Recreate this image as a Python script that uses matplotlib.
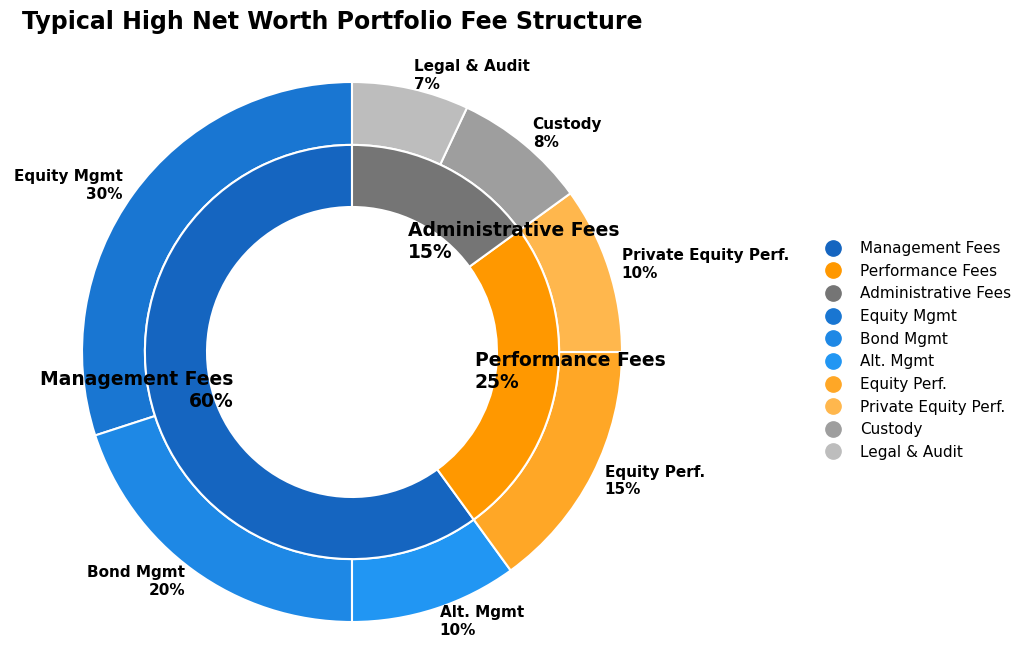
import matplotlib.pyplot as plt
from matplotlib.lines import Line2D

inner_labels = ["Management Fees", "Performance Fees", "Administrative Fees"]
inner_values = [60, 25, 15]
inner_colors = ["#1565C0", "#FF9800", "#757575"]

outer_labels = ["Equity Mgmt", "Bond Mgmt", "Alt. Mgmt", "Equity Perf.",
                "Private Equity Perf.", "Custody", "Legal & Audit"]
outer_values = [30, 20, 10, 15, 10, 8, 7]
outer_colors = ["#1976D2", "#1E88E5", "#2196F3", "#FFA726", "#FFB74D",
                "#9E9E9E", "#BDBDBD"]

fig = plt.figure(figsize=(10.24, 6.49), dpi=100)
ax = fig.add_axes([55/1024, 0, 594/1024, 594/649])

ax.pie(outer_values, radius=1, startangle=90, colors=outer_colors,
       labels=[f"{l}\n{v}%" for l, v in zip(outer_labels, outer_values)],
       labeldistance=1.05,
       wedgeprops=dict(width=0.233, edgecolor="white", linewidth=1.5),
       textprops=dict(fontsize=11, fontweight="bold"))
ax.pie(inner_values, radius=0.767, startangle=90, colors=inner_colors,
       labels=[f"{l}\n{v}%" for l, v in zip(inner_labels, inner_values)],
       labeldistance=0.6,
       wedgeprops=dict(width=0.23, edgecolor="white", linewidth=1.5),
       textprops=dict(fontsize=13.5, fontweight="bold"))
ax.set_xlim(-1.1, 1.1)
ax.set_ylim(-1.1, 1.1)
ax.set_aspect("equal")

fig.text(22/1024, 1 - 22/649, "Typical High Net Worth Portfolio Fee Structure",
         fontsize=17, fontweight="bold", va="center", ha="left")

handles = [Line2D([], [], marker="o", linestyle="", markersize=11,
                  markerfacecolor=c, markeredgecolor=c)
           for c in inner_colors + outer_colors]
fig.legend(handles, inner_labels + outer_labels, loc="center left",
           bbox_to_anchor=(0.785, 0.46), frameon=False, fontsize=11,
           handletextpad=0.8, labelspacing=0.5)

fig.savefig("out.png", dpi=100)
